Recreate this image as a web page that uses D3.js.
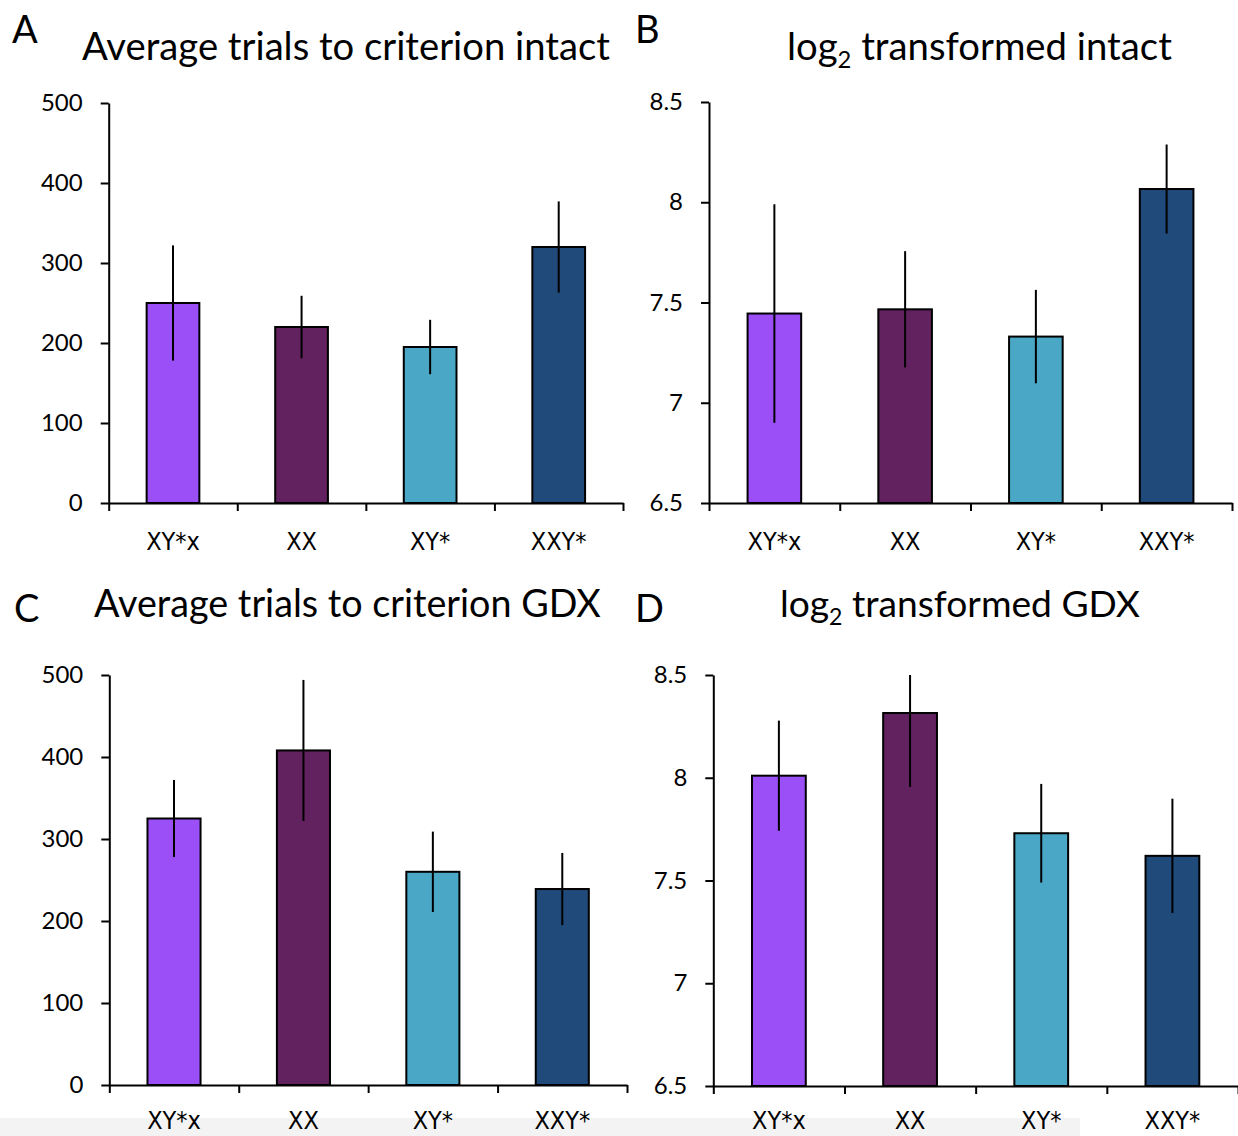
<!DOCTYPE html>
<html>
<head>
<meta charset="utf-8">
<script src="https://cdn.jsdelivr.net/npm/d3@7/dist/d3.min.js"></script>
<style>
  body { margin: 0; background: #fff; }
  text { font-family: Lato, "Open Sans", sans-serif; fill: #000; }
</style>
</head>
<body>
<svg id="fig" width="1238" height="1136"></svg>
<script>
// genotype groups, same order in every panel
var groups = ["XY*x", "XX", "XY*", "XXY*"];
var groupColors = ["#9b4ff7", "#62215f", "#4aa8c6", "#1f4a7a"];

// A - average trials to criterion, intact (mean, sem)
var intactMean = [250, 220, 195, 320];
var intactErr  = [72, 39, 34, 57];
// B - log2 transformed, intact
var intactLogMean = [7.445, 7.466, 7.33, 8.066];
var intactLogErr  = [0.545, 0.29, 0.233, 0.222];
// C - average trials to criterion, GDX
var gdxMean = [325, 408, 260, 239];
var gdxErr  = [47, 86, 49, 44];
// D - log2 transformed, GDX
var gdxLogMean = [8.01, 8.315, 7.73, 7.62];
var gdxLogErr  = [0.268, 0.36, 0.24, 0.278];

var rawTicks = [0, 100, 200, 300, 400, 500];
var logTicks = [6.5, 7, 7.5, 8, 8.5];

var svg = d3.select("#fig");

// light grey strip at the very bottom of the original screenshot
svg.append("rect")
  .attr("x", 0).attr("y", 1118)
  .attr("width", 1080).attr("height", 18)
  .attr("fill", "#f3f3f3");

function fitWidth(sel, w) {
  var l = sel.node().getComputedTextLength();
  var fs = parseFloat(sel.attr("font-size"));
  sel.attr("font-size", fs * w / l);
}

function drawPanel(p) {
  var y = d3.scaleLinear().domain(p.domain).range([p.y0, p.y1]);
  var xb = d3.scaleBand().domain(groups).range([p.x0, p.x1]).padding(0);
  var xi = d3.scaleLinear().domain([0, groups.length]).range([p.x0, p.x1]);
  var barW = xb.bandwidth() * 0.41;

  var g = svg.append("g");

  // panel letter
  g.append("text")
    .attr("x", p.letterX).attr("y", p.letterY)
    .attr("font-size", 38)
    .text(p.letter);

  // title
  var t = g.append("text")
    .attr("x", p.titleX).attr("y", p.titleY)
    .attr("font-size", 32);
  if (p.log) {
    t.append("tspan").text("log");
    t.append("tspan").attr("font-size", "0.62em").attr("dy", "0.35em").text("2");
    t.append("tspan").attr("dy", "-0.22em").text(" " + p.title);
  } else {
    t.text(p.title);
  }
  fitWidth(t, p.titleW);

  // bars
  g.selectAll(".bar")
    .data(p.mean)
    .enter().append("rect")
      .attr("class", "bar")
      .attr("x", function(d, i) { return xb(groups[i]) + (xb.bandwidth() - barW) / 2; })
      .attr("y", function(d) { return y(d); })
      .attr("width", barW)
      .attr("height", function(d) { return y(p.domain[0]) - y(d); })
      .attr("fill", function(d, i) { return groupColors[i]; })
      .attr("stroke", "#000")
      .attr("stroke-width", 2);

  // error bars (no caps), clipped at axis top
  g.selectAll(".err")
    .data(p.mean)
    .enter().append("line")
      .attr("class", "err")
      .attr("x1", function(d, i) { return xb(groups[i]) + xb.bandwidth() / 2; })
      .attr("x2", function(d, i) { return xb(groups[i]) + xb.bandwidth() / 2; })
      .attr("y1", function(d, i) { return y(d - p.err[i]); })
      .attr("y2", function(d, i) { return y(Math.min(d + p.err[i], p.domain[1])); })
      .attr("stroke", "#000")
      .attr("stroke-width", 2);

  // y axis
  var ya = g.append("g")
    .attr("transform", "translate(" + p.x0 + ",0)")
    .call(d3.axisLeft(y).tickValues(p.ticks).tickSize(8).tickSizeOuter(0).tickPadding(18)
      .tickFormat(d3.format("")));
  ya.selectAll("text").attr("font-size", 24).style("font-family", "Lato, sans-serif");

  // x axis: ticks sit on the category boundaries
  g.append("g")
    .attr("transform", "translate(0," + p.y0 + ")")
    .call(d3.axisBottom(xi).tickValues(d3.range(groups.length + 1)).tickSize(8).tickSizeOuter(0)
      .tickFormat(""));

  g.selectAll(".domain, .tick line")
    .attr("stroke", "#000")
    .attr("stroke-width", 2);

  g.selectAll(".cat")
    .data(groups)
    .enter().append("text")
      .attr("class", "cat")
      .attr("x", function(d) { return xb(d) + xb.bandwidth() / 2; })
      .attr("y", p.y0 + p.labelDy)
      .attr("text-anchor", "middle")
      .attr("font-size", 25)
      .style("font-family", "'DejaVu Sans Condensed', 'DejaVu Sans', sans-serif")
      .text(function(d) { return d; });
}

drawPanel({letter: "A", letterX: 12, letterY: 43,
  title: "Average trials to criterion intact", titleX: 82, titleY: 60, titleW: 528, log: false,
  mean: intactMean, err: intactErr, domain: [0, 500], ticks: rawTicks,
  x0: 108.7, x1: 623, y0: 503, y1: 103, labelDy: 47});

drawPanel({letter: "B", letterX: 635, letterY: 43,
  title: "transformed intact", titleX: 787, titleY: 60, titleW: 385, log: true,
  mean: intactLogMean, err: intactLogErr, domain: [6.5, 8.5], ticks: logTicks,
  x0: 709, x1: 1232, y0: 503, y1: 102, labelDy: 47});

// bottom row labels sit right at the lower edge, kept just inside it
drawPanel({letter: "C", letterX: 14, letterY: 622,
  title: "Average trials to criterion GDX", titleX: 94, titleY: 617, titleW: 507, log: false,
  mean: gdxMean, err: gdxErr, domain: [0, 500], ticks: rawTicks,
  x0: 109.3, x1: 627, y0: 1085, y1: 675, labelDy: 44});

drawPanel({letter: "D", letterX: 635, letterY: 622,
  title: "transformed GDX", titleX: 780, titleY: 617, titleW: 360, log: true,
  mean: gdxLogMean, err: gdxLogErr, domain: [6.5, 8.5], ticks: logTicks,
  x0: 713.3, x1: 1238, y0: 1086, y1: 675, labelDy: 43});
</script>
</body>
</html>
